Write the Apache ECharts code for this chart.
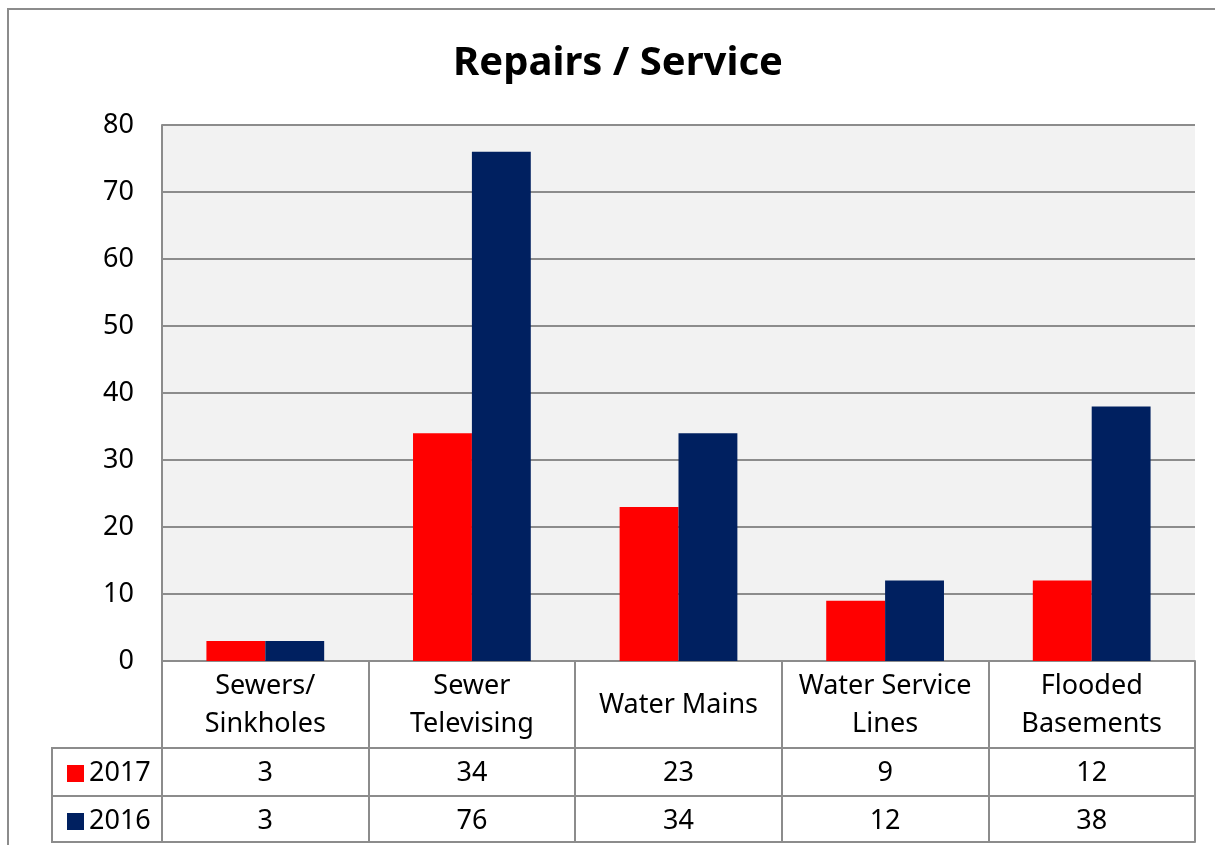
<!DOCTYPE html>
<html>
<head>
<meta charset="utf-8">
<script src="https://cdn.jsdelivr.net/npm/echarts@6/dist/echarts.min.js"></script>
<style>html,body{margin:0;padding:0;background:#fff;}#c{width:1215px;height:845px;}</style>
</head>
<body>
<div id="c"></div>
<script>
const categories = ['Sewers/\nSinkholes', 'Sewer\nTelevising', 'Water Mains', 'Water Service\nLines', 'Flooded\nBasements'];
const seriesNames = ['2017', '2016'];
const values2017 = [3, 34, 23, 9, 12];
const values2016 = [3, 76, 34, 12, 38];
const yTicks = { min: 0, max: 80, interval: 10 };

const FONT = 'Noto Sans';
const FS = 27;
const LINE = '#8c8c8c';
const chart = echarts.init(document.getElementById('c'));
const axisLine = { show: true, lineStyle: { color: LINE, width: 2 } };

chart.setOption({
  animation: false,
  backgroundColor: '#fff',
  textStyle: { fontFamily: FONT },
  title: {
    text: 'Repairs / Service',
    left: 613, top: 39, textAlign: 'center',
    textStyle: { fontFamily: FONT, fontSize: 40, fontWeight: 'bold', color: '#000' }
  },
  legend: {
    orient: 'vertical', left: 62, top: 755,
    itemWidth: 17, itemHeight: 17, itemGap: 21, icon: 'rect',
    textStyle: { fontFamily: FONT, fontSize: FS, color: '#000', lineHeight: 27 },
    data: seriesNames
  },
  grid: { left: 162, right: 20, top: 125, bottom: 184, show: true, backgroundColor: '#f2f2f2', borderWidth: 0 },
  xAxis: [
    {
      type: 'category', data: categories, position: 'bottom',
      axisLine: axisLine,
      axisTick: { show: true, interval: 0, length: 181, lineStyle: { color: LINE, width: 2 } },
      axisLabel: { interval: 0, fontFamily: FONT, fontSize: FS, color: '#000', lineHeight: 38, verticalAlign: 'middle', margin: 44 }
    },
    {
      type: 'category', data: categories, position: 'bottom', offset: 87,
      axisLine: axisLine, axisTick: { show: false },
      axisLabel: { interval: 0, fontFamily: FONT, fontSize: FS, color: '#000', verticalAlign: 'middle', margin: 25,
        formatter: (v, i) => String(values2017[i]) }
    },
    {
      type: 'category', data: categories, position: 'bottom', offset: 135,
      axisLine: axisLine, axisTick: { show: false },
      axisLabel: { interval: 0, fontFamily: FONT, fontSize: FS, color: '#000', verticalAlign: 'middle', margin: 25,
        formatter: (v, i) => String(values2016[i]) }
    },
    {
      type: 'category', data: categories, position: 'bottom', offset: 181,
      axisLine: axisLine, axisTick: { show: false }, axisLabel: { show: false }
    }
  ],
  yAxis: {
    type: 'value', min: yTicks.min, max: yTicks.max, interval: yTicks.interval,
    axisLine: axisLine, axisTick: { show: false },
    axisLabel: { fontFamily: FONT, fontSize: FS, color: '#000', margin: 28 },
    splitLine: { lineStyle: { color: LINE, width: 2 } }
  },
  series: [
    { name: seriesNames[0], type: 'bar', data: values2017, itemStyle: { color: '#ff0000' }, barGap: '0%', barCategoryGap: '43%' },
    { name: seriesNames[1], type: 'bar', data: values2016, itemStyle: { color: '#002060' }, barGap: '0%', barCategoryGap: '43%' }
  ],
  graphic: [
    { type: 'rect', shape: { x: 8, y: 9, width: 1400, height: 1000 }, style: { fill: null, stroke: LINE, lineWidth: 2 }, silent: true },
    { type: 'line', shape: { x1: 52, y1: 748, x2: 162, y2: 748 }, style: { stroke: LINE, lineWidth: 2 } },
    { type: 'line', shape: { x1: 52, y1: 796, x2: 162, y2: 796 }, style: { stroke: LINE, lineWidth: 2 } },
    { type: 'line', shape: { x1: 52, y1: 842, x2: 162, y2: 842 }, style: { stroke: LINE, lineWidth: 2 } },
    { type: 'line', shape: { x1: 52, y1: 747, x2: 52, y2: 843 }, style: { stroke: LINE, lineWidth: 2 } }
  ]
});
</script>
</body>
</html>
